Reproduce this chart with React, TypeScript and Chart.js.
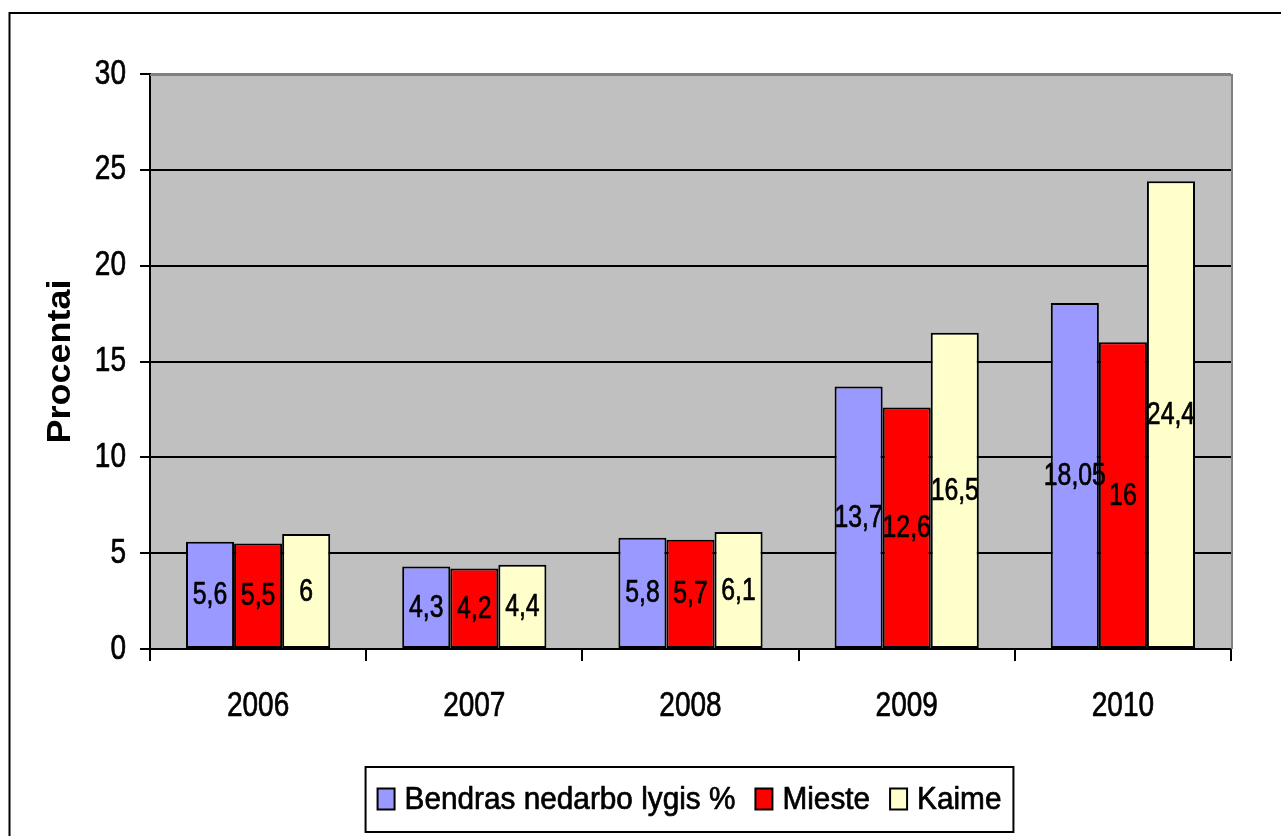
import React, { useEffect, useRef } from 'react';
import { Chart, registerables } from 'chart.js';

Chart.register(...registerables);

// ---- data ----
const years = ['2006', '2007', '2008', '2009', '2010'];
const bendras = [5.6, 4.3, 5.8, 13.7, 18.05];
const mieste = [5.5, 4.2, 5.7, 12.6, 16];
const kaime = [6, 4.4, 6.1, 16.5, 24.4];
const seriesLabels = ['Bendras nedarbo lygis %', 'Mieste', 'Kaime'];
const seriesColors = ['#9999FF', '#FF0000', '#FFFFCC'];
const yTickValues = [0, 5, 10, 15, 20, 25, 30];
const yAxisTitle = 'Procentai';

const FONT = "'Liberation Sans', Arial, sans-serif";

const fmt = (v: number) => String(v).replace('.', ',');

// horizontal squeeze applied to regular text (the reference uses a condensed look)
let textScaleX = 0.8;
const BOLD_SCALE_X = 1.09;

const narrowTextPlugin = {
  id: 'narrowText',
  beforeInit(chart: any) {
    const ctx = chart.ctx;
    const orig = ctx.fillText;
    const origStroke = ctx.strokeText;
    ctx.fillText = function (text: string, x: number, y: number) {
      const bold = /bold|700/.test(this.font);
      const k = bold ? BOLD_SCALE_X : textScaleX;
      this.save();
      this.translate(x, y);
      this.scale(k, 1);
      orig.call(this, text, 0, 0);
      if (!bold) {
        this.strokeStyle = this.fillStyle;
        this.lineWidth = 0.7;
        this.lineJoin = 'round';
        this.setLineDash([]);
        origStroke.call(this, text, 0, 0);
      }
      this.restore();
    };
  },
};

const decorPlugin = {
  id: 'decor',
  beforeDraw(chart: any) {
    const { ctx, chartArea: a, width, height } = chart;
    ctx.save();
    ctx.fillStyle = '#ffffff';
    ctx.fillRect(0, 0, width, height);
    ctx.fillStyle = '#C0C0C0';
    ctx.fillRect(a.left, a.top, a.right - a.left, a.bottom - a.top);
    ctx.strokeStyle = '#000000';
    ctx.lineWidth = 2;
    ctx.strokeRect(9.5, 13, width + 40, height + 40);
    ctx.restore();
  },
  beforeDatasetsDraw(chart: any) {
    const { ctx, chartArea: a } = chart;
    ctx.save();
    ctx.strokeStyle = '#808080';
    ctx.lineWidth = 2;
    ctx.beginPath();
    ctx.moveTo(a.left, a.top + 1);
    ctx.lineTo(a.right + 1, a.top + 1);
    ctx.lineTo(a.right + 1, a.bottom);
    ctx.stroke();
    ctx.restore();
  },
  afterDatasetsDraw(chart: any) {
    const { ctx } = chart;
    ctx.save();
    textScaleX = 0.8;
    ctx.font = `31px ${FONT}`;
    ctx.fillStyle = '#000000';
    ctx.textAlign = 'center';
    ctx.textBaseline = 'middle';
    chart.data.datasets.forEach((ds: any, i: number) => {
      const meta = chart.getDatasetMeta(i);
      meta.data.forEach((bar: any, j: number) => {
        const y = (bar.y + bar.base) / 2;
        ctx.fillText(fmt(ds.data[j]), bar.x, y + 1);
      });
    });
    ctx.restore();
  },
  afterDraw(chart: any) {
    const { ctx, chartArea: a } = chart;
    ctx.save();
    const k = 0.93;
    textScaleX = k;
    ctx.font = `32px ${FONT}`;
    const boxW = 17;
    const boxH = 21;
    const gapText = 10;
    const itemGap = 20;
    const ds = chart.data.datasets;
    const widths = ds.map((d: any) => boxW + gapText + ctx.measureText(d.label).width * k);
    const total = widths.reduce((s: number, w: number) => s + w, 0) + itemGap * (ds.length - 1);
    const cx = (a.left + a.right) / 2 - 1;
    const cy = 799;
    let x = cx - total / 2;
    ctx.strokeStyle = '#000000';
    ctx.lineWidth = 2;
    ctx.strokeRect(x - 12, 767, total + 24, 65);
    ctx.textBaseline = 'middle';
    ctx.textAlign = 'left';
    ds.forEach((d: any, i: number) => {
      ctx.fillStyle = d.backgroundColor;
      ctx.fillRect(x, cy - boxH / 2, boxW, boxH);
      ctx.strokeStyle = '#000000';
      ctx.lineWidth = 2;
      ctx.strokeRect(x, cy - boxH / 2, boxW, boxH);
      ctx.fillStyle = '#000000';
      ctx.fillText(d.label, x + boxW + gapText, cy + 1);
      x += widths[i] + itemGap;
    });
    textScaleX = 0.8;
    ctx.restore();
  },
};

export default function App() {
  const ref = useRef<HTMLCanvasElement>(null);
  useEffect(() => {
    document.body.style.margin = '0';
    document.body.style.overflow = 'hidden';
    const canvas = ref.current;
    if (!canvas) return;
    const series = [bendras, mieste, kaime];
    const chart = new Chart(canvas, {
      type: 'bar',
      data: {
        labels: years,
        datasets: series.map((d, i) => ({
          label: seriesLabels[i],
          data: d,
          backgroundColor: seriesColors[i],
          borderColor: '#000000',
          borderWidth: 2,
          borderSkipped: false,
          categoryPercentage: 0.667,
          barPercentage: 1,
        })),
      },
      options: {
        responsive: false,
        animation: false,
        events: [],
        layout: { padding: { top: 74, right: 50, left: 0, bottom: 107 } },
        plugins: {
          legend: { display: false },
          tooltip: { enabled: false },
        },
        scales: {
          x: {
            afterFit: (s: any) => { s.height = 80; },
            grid: {
              display: true,
              drawOnChartArea: false,
              drawTicks: true,
              tickLength: 12,
              color: '#000000',
              lineWidth: 2,
              offset: true,
            },
            border: { color: '#000000', width: 2 },
            ticks: {
              color: '#000000',
              font: { family: FONT, size: 35 },
              padding: 24,
              maxRotation: 0,
            },
          },
          y: {
            min: 0,
            max: 30,
            afterFit: (s: any) => { s.width = 150; },
            afterBuildTicks: (s: any) => { s.ticks = yTickValues.map((v) => ({ value: v })); },
            grid: {
              color: (c: any) => (c.tick && c.tick.value === 30 ? '#808080' : '#000000'),
              tickColor: '#000000',
              lineWidth: 2,
              tickLength: 10,
              drawTicks: true,
            },
            border: { color: '#000000', width: 2 },
            ticks: {
              color: '#000000',
              font: { family: FONT, size: 35 },
              padding: 14,
            },
            title: {
              display: true,
              text: yAxisTitle,
              color: '#000000',
              font: { family: FONT, size: 33, weight: 'bold' },
              padding: { top: 41, bottom: 0 },
            },
          },
        },
      },
      plugins: [narrowTextPlugin, decorPlugin],
    });
    return () => chart.destroy();
  }, []);
  return (
    <div style={{ width: 1281, height: 836, overflow: 'hidden' }}>
      <canvas ref={ref} width={1281} height={836} style={{ display: 'block' }} />
    </div>
  );
}
